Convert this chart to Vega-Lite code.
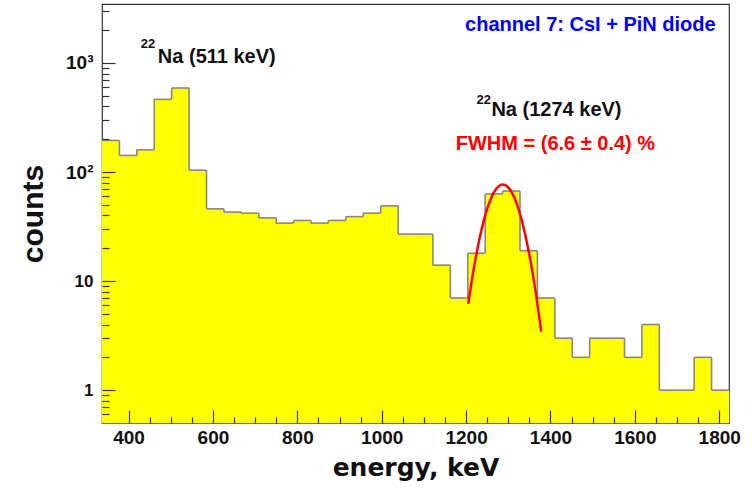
{
  "$schema": "https://vega.github.io/schema/vega-lite/v6.json",
  "width": 627,
  "height": 419,
  "autosize": {"type": "none"},
  "padding": {"left": 102, "top": 4, "right": 23, "bottom": 67},
  "background": "white",
  "config": {
    "view": {"stroke": "#333", "strokeWidth": 1.2},
    "axis": {"grid": false, "domain": false, "ticks": true, "labelFont": "Liberation Sans", "labelFontWeight": "bold", "labelColor": "#111", "titleColor": "#111", "tickColor": "#333", "tickWidth": 1.2}
  },
  "resolve": {"axis": {"x": "independent", "y": "independent"}},
  "datasets": {
    "hist": [
      {"lo": 337.0, "hi": 378.3, "count": 195},
      {"lo": 378.3, "hi": 419.6, "count": 142},
      {"lo": 419.6, "hi": 460.8, "count": 160},
      {"lo": 460.8, "hi": 502.1, "count": 464},
      {"lo": 502.1, "hi": 543.4, "count": 590},
      {"lo": 543.4, "hi": 584.7, "count": 104},
      {"lo": 584.7, "hi": 626.0, "count": 46},
      {"lo": 626.0, "hi": 667.2, "count": 43},
      {"lo": 667.2, "hi": 708.5, "count": 42},
      {"lo": 708.5, "hi": 749.8, "count": 38},
      {"lo": 749.8, "hi": 791.1, "count": 34},
      {"lo": 791.1, "hi": 832.4, "count": 36},
      {"lo": 832.4, "hi": 873.6, "count": 34},
      {"lo": 873.6, "hi": 914.9, "count": 36},
      {"lo": 914.9, "hi": 956.2, "count": 39},
      {"lo": 956.2, "hi": 997.5, "count": 42},
      {"lo": 997.5, "hi": 1038.8, "count": 49},
      {"lo": 1038.8, "hi": 1080.0, "count": 27},
      {"lo": 1080.0, "hi": 1121.3, "count": 27},
      {"lo": 1121.3, "hi": 1162.6, "count": 14},
      {"lo": 1162.6, "hi": 1203.9, "count": 7},
      {"lo": 1203.9, "hi": 1245.2, "count": 18},
      {"lo": 1245.2, "hi": 1286.4, "count": 63},
      {"lo": 1286.4, "hi": 1327.7, "count": 67},
      {"lo": 1327.7, "hi": 1369.0, "count": 19},
      {"lo": 1369.0, "hi": 1410.3, "count": 7},
      {"lo": 1410.3, "hi": 1451.6, "count": 3},
      {"lo": 1451.6, "hi": 1492.8, "count": 2},
      {"lo": 1492.8, "hi": 1534.1, "count": 3},
      {"lo": 1534.1, "hi": 1575.4, "count": 3},
      {"lo": 1575.4, "hi": 1616.7, "count": 2},
      {"lo": 1616.7, "hi": 1658.0, "count": 4},
      {"lo": 1658.0, "hi": 1699.2, "count": 1},
      {"lo": 1699.2, "hi": 1740.5, "count": 1},
      {"lo": 1740.5, "hi": 1781.8, "count": 2},
      {"lo": 1781.8, "hi": 1823.1, "count": 1}
    ],
    "fit": [
      {"e": 1205, "c": 6.17},
      {"e": 1215, "c": 11.0},
      {"e": 1225, "c": 18.2},
      {"e": 1235, "c": 27.9},
      {"e": 1245, "c": 39.7},
      {"e": 1255, "c": 52.4},
      {"e": 1265, "c": 64.2},
      {"e": 1275, "c": 72.9},
      {"e": 1285, "c": 76.9},
      {"e": 1295, "c": 75.2},
      {"e": 1305, "c": 68.2},
      {"e": 1315, "c": 57.4},
      {"e": 1325, "c": 44.8},
      {"e": 1335, "c": 32.4},
      {"e": 1345, "c": 21.8},
      {"e": 1355, "c": 13.6},
      {"e": 1365, "c": 7.85},
      {"e": 1375, "c": 4.21},
      {"e": 1378, "c": 3.44}
    ]
  },
  "layer": [
    {
      "data": {"name": "hist"},
      "mark": {"type": "rect", "fill": "#ffff00", "stroke": "#ffff00", "strokeWidth": 0.6},
      "encoding": {
        "x": {
          "field": "lo", "type": "quantitative",
          "scale": {"domain": [337, 1823.1], "nice": false, "zero": false},
          "axis": {
            "orient": "bottom",
            "zindex": 2,
            "title": "energy, keV",
            "values": [400, 600, 800, 1000, 1200, 1400, 1600, 1800],
            "format": "d",
            "tickSize": -13,
            "labelFontSize": 19,
            "labelPadding": 18.5,
            "labelFlush": false,
            "labelOverlap": false,
            "titleFont": "DejaVu Sans",
            "titleFontWeight": "bold",
            "titleFontSize": 25,
            "titleAlign": "center",
            "titleBaseline": "alphabetic",
            "titleX": 313.5,
            "titleY": 52
          }
        },
        "x2": {"field": "hi"},
        "y": {
          "field": "count", "type": "quantitative",
          "scale": {"type": "log", "domain": [0.5, 3475], "nice": false},
          "axis": {
            "orient": "left",
            "zindex": 2,
            "title": "counts",
            "values": [1, 10, 100, 1000],
            "labelExpr": "datum.value == 1000 ? '10³' : datum.value == 100 ? '10²' : datum.value == 10 ? '10' : '1'",
            "tickSize": -13,
            "labelFontSize": {"condition": {"test": "datum.value >= 100", "value": 19}, "value": 17},
            "labelPadding": 22,
            "labelOverlap": false,
            "labelFlush": false,
            "titleFont": "Liberation Sans",
            "titleFontWeight": "bold",
            "titleFontSize": 30,
            "titleAngle": -90,
            "titleAlign": "center",
            "titleBaseline": "alphabetic",
            "titleX": -60,
            "titleY": 209.5
          }
        },
        "y2": {"datum": 0.5}
      }
    },
    {
      "data": {"name": "hist"},
      "mark": {"type": "rule", "color": "#888888", "strokeWidth": 1.6},
      "encoding": {
        "x": {
          "field": "lo", "type": "quantitative",
          "axis": {
            "orient": "bottom",
            "zindex": 2,
            "title": null,
            "labels": false,
            "values": [450, 500, 550, 650, 700, 750, 850, 900, 950, 1050, 1100, 1150, 1250, 1300, 1350, 1450, 1500, 1550, 1650, 1700, 1750],
            "tickSize": -6
          }
        },
        "x2": {"field": "hi"},
        "y": {
          "field": "count", "type": "quantitative",
          "axis": {
            "orient": "left",
            "zindex": 2,
            "title": null,
            "labels": false,
            "values": [0.6, 0.7, 0.8, 0.9, 2, 3, 4, 5, 6, 7, 8, 9, 20, 30, 40, 50, 60, 70, 80, 90, 200, 300, 400, 500, 600, 700, 800, 900, 2000, 3000],
            "tickSize": -7
          }
        }
      }
    },
    {
      "data": {"name": "hist"},
      "transform": [
        {"window": [{"op": "lead", "field": "count", "as": "next"}], "sort": [{"field": "lo", "order": "ascending"}]},
        {"filter": "datum.next != null"}
      ],
      "mark": {"type": "rule", "color": "#888888", "strokeWidth": 1.6},
      "encoding": {
        "x": {"field": "hi", "type": "quantitative", "axis": null},
        "y": {"field": "count", "type": "quantitative", "axis": null},
        "y2": {"field": "next"}
      }
    },
    {
      "data": {"name": "fit"},
      "mark": {"type": "line", "color": "#ff0000", "strokeWidth": 2.5, "interpolate": "monotone"},
      "encoding": {
        "x": {"field": "e", "type": "quantitative", "axis": null},
        "y": {"field": "c", "type": "quantitative", "axis": null}
      }
    },
    {
      "data": {"values": [{"e": 428.9, "c": 1364, "t": "22"}, {"e": 1224.4, "c": 421, "t": "22"}]},
      "mark": {"type": "text", "align": "left", "baseline": "alphabetic", "font": "Liberation Sans", "fontWeight": "bold", "fontSize": 13, "color": "#111"},
      "encoding": {
        "x": {"field": "e", "type": "quantitative", "axis": null},
        "y": {"field": "c", "type": "quantitative", "axis": null},
        "text": {"field": "t"}
      }
    },
    {
      "data": {"values": [{"e": 469.4, "c": 1006, "t": "Na (511 keV)"}, {"e": 1260, "c": 326, "t": "Na (1274 keV)"}]},
      "mark": {"type": "text", "align": "left", "baseline": "alphabetic", "font": "Liberation Sans", "fontWeight": "bold", "fontSize": 20, "color": "#111"},
      "encoding": {
        "x": {"field": "e", "type": "quantitative", "axis": null},
        "y": {"field": "c", "type": "quantitative", "axis": null},
        "text": {"field": "t"}
      }
    },
    {
      "data": {"values": [{"e": 1175.4, "c": 159, "t": "FWHM = (6.6 ± 0.4) %"}]},
      "mark": {"type": "text", "align": "left", "baseline": "alphabetic", "font": "Liberation Sans", "fontWeight": "bold", "fontSize": 20, "color": "#ff0000"},
      "encoding": {
        "x": {"field": "e", "type": "quantitative", "axis": null},
        "y": {"field": "c", "type": "quantitative", "axis": null},
        "text": {"field": "t"}
      }
    },
    {
      "data": {"values": [{"e": 1791.5, "c": 1977, "t": "channel 7: CsI + PiN diode"}]},
      "mark": {"type": "text", "align": "right", "baseline": "alphabetic", "font": "Liberation Sans", "fontWeight": "bold", "fontSize": 20, "color": "#0000ff"},
      "encoding": {
        "x": {"field": "e", "type": "quantitative", "axis": null},
        "y": {"field": "c", "type": "quantitative", "axis": null},
        "text": {"field": "t"}
      }
    }
  ]
}
